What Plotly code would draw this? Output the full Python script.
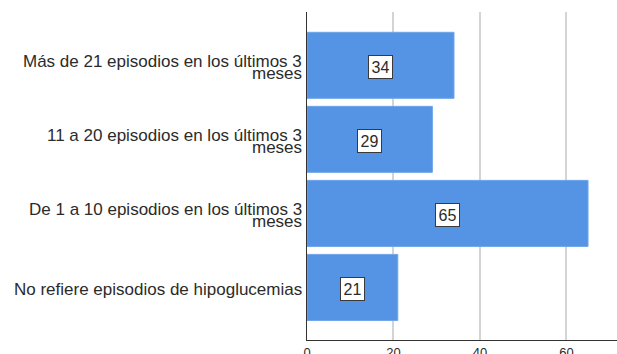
import plotly.graph_objects as go

# Episodes of hypoglycaemia, bottom-to-top order on the y axis
categories = [
    "No refiere episodios de hipoglucemias",
    "De 1 a 10 episodios en los últimos 3 meses",
    "11 a 20 episodios en los últimos 3 meses",
    "Más de 21 episodios en los últimos 3 meses",
]
label_lines = [
    ["No refiere episodios de hipoglucemias"],
    ["De 1 a 10 episodios en los últimos 3", "meses"],
    ["11 a 20 episodios en los últimos 3", "meses"],
    ["Más de 21 episodios en los últimos 3", "meses"],
]
counts = [21, 65, 29, 34]
x_ticks = [0, 20, 40, 60]

BAR = "#5594E4"
TEXT = "#2b2b2b"
FONT = "Liberation Sans, Arial, sans-serif"

fig = go.Figure(
    go.Bar(
        y=categories,
        x=counts,
        orientation="h",
        marker=dict(color=BAR, line=dict(color="#6FA5EA", width=1)),
        hoverinfo="skip",
    )
)

annotations = []
# value boxes in the middle of each bar
for cat, v in zip(categories, counts):
    annotations.append(dict(
        x=v / 2, y=cat, xref="x", yref="y", text=str(v), showarrow=False,
        font=dict(family=FONT, size=16, color=TEXT),
        bgcolor="white", bordercolor="#3a3a3a", borderwidth=1, borderpad=2.5,
        xanchor="center", yanchor="middle", yshift=-2,
    ))

# category labels, drawn line by line to keep the spacing tight
for cat, lines in zip(categories, label_lines):
    if len(lines) == 1:
        shifts = [-2.5]
    else:
        shifts = [4, -8.6]
    for line, s in zip(lines, shifts):
        annotations.append(dict(
            x=0, y=cat, xref="paper", yref="y", text=line, showarrow=False,
            font=dict(family=FONT, size=17, color=TEXT),
            xanchor="right", yanchor="middle", xshift=-3, yshift=s,
        ))

fig.update_layout(
    width=617, height=354,
    margin=dict(l=307, r=0, t=12, b=14, autoexpand=False),
    paper_bgcolor="white", plot_bgcolor="white",
    showlegend=False,
    bargap=0.108,
    annotations=annotations,
    font=dict(family=FONT, color=TEXT),
    xaxis=dict(
        range=[0, 71.7], tickvals=x_ticks, ticktext=[str(t) for t in x_ticks],
        showgrid=True, gridcolor="#D4D4D4", gridwidth=2,
        zeroline=False, showline=True, linecolor="#333333", linewidth=1,
        ticks="", ticklabelstandoff=0, automargin=False,
        tickfont=dict(family=FONT, size=13, color=TEXT),
        fixedrange=True,
    ),
    yaxis=dict(
        categoryorder="array", categoryarray=categories,
        range=[-0.71, 3.72],
        showticklabels=False, ticks="", showgrid=False, zeroline=False,
        showline=True, linecolor="#333333", linewidth=1,
        automargin=False, fixedrange=True,
    ),
)

fig.write_html("out.html")
